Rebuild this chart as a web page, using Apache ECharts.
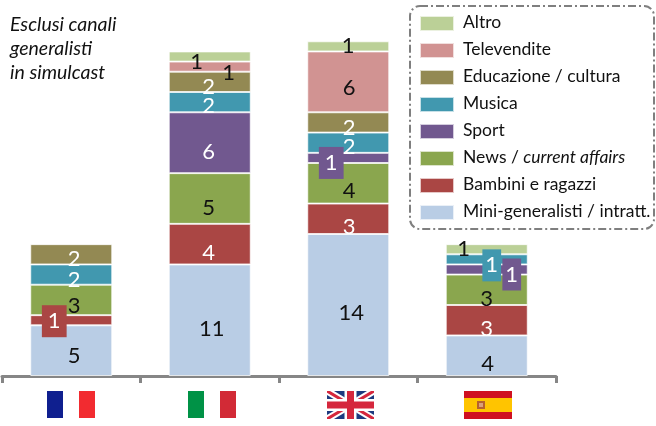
<!DOCTYPE html>
<html>
<head>
<meta charset="utf-8">
<style>
  html, body { margin: 0; padding: 0; background: #fff; }
  #chart { width: 656px; height: 426px; }
</style>
<script src="https://cdn.jsdelivr.net/npm/echarts@6/dist/echarts.min.js"></script>
</head>
<body>
<div id="chart"></div>
<script>
const paesi = ['Francia', 'Italia', 'Regno Unito', 'Spagna']

const miniGeneralisti = [5, 11, 14, 4]
const bambini = [1, 4, 3, 3]
const news = [3, 5, 4, 3]
const sport = [null, 6, 1, 1]
const musica = [2, 2, 2, 1]
const educazione = [2, 2, 2, null]
const televendite = [null, 1, 6, null]
const altro = [null, 1, 1, 1]

const FONT = 'Lato, "Open Sans", sans-serif'
const BLACK = '#111'
const WHITE = '#fff'

// nome, valori, colore, colore etichetta per paese
const serie = [
  ['Mini-generalisti / intratt.', miniGeneralisti, '#b9cde5', [BLACK, BLACK, BLACK, BLACK]],
  ['Bambini e ragazzi', bambini, '#aa4644', [WHITE, WHITE, WHITE, WHITE]],
  ['News / current affairs', news, '#8aa64e', [BLACK, BLACK, BLACK, BLACK]],
  ['Sport', sport, '#71588f', [WHITE, WHITE, WHITE, WHITE]],
  ['Musica', musica, '#4198af', [WHITE, WHITE, WHITE, WHITE]],
  ['Educazione / cultura', educazione, '#938953', [WHITE, WHITE, WHITE, WHITE]],
  ['Televendite', televendite, '#d19392', [BLACK, BLACK, BLACK, BLACK]],
  ['Altro', altro, '#bbd097', [BLACK, BLACK, BLACK, BLACK]],
]

// spostamento etichette [dx, dy] per serie e paese; terzo elemento = padding del riquadro colorato
const spostamenti = {
  'Mini-generalisti / intratt.': [[3, 5], [2, 9], [3, 8], [1, 8]],
  'Bambini e ragazzi': [[-17, 1, [5, 6]], [-1, 9], [1, 8], [0, 9]],
  'News / current affairs': [[3, 6], [-1, 9], [1, 8], [0, 9]],
  'Sport': [null, [-1, 9], [-17, 5, [5, 6]], [25, 5, [5, 3]]],
  'Musica': [[3, 5], [-1, 4], [1, 4], [5, 6, [5, 3]]],
  'Educazione / cultura': [[3, 5], [-1, 5], [1, 5], null],
  'Televendite': [null, [19, 6], [1, 6], null],
  'Altro': [null, [-13, 5], [0, 0], [-23, 0]],
}

function datiSerie(nome, valori, colori, coloreBarra) {
  return valori.map((v, i) => {
    if (v === null) return null
    const s = spostamenti[nome][i]
    const label = { color: colori[i], offset: [s[0], s[1]] }
    if (s[2]) {
      label.backgroundColor = coloreBarra
      label.padding = s[2]
    }
    return { value: v, label }
  })
}

// bandiere: disegnate a mano, non sono dati
function rect(x, y, w, h, fill) {
  return { type: 'rect', silent: true, shape: { x, y, width: w, height: h }, style: { fill } }
}
function poly(points, fill) {
  return { type: 'polygon', silent: true, shape: { points }, style: { fill } }
}
function tricolore(x, c1, c3) {
  return [rect(x, 391, 16, 27, c1), rect(x + 32, 391, 16, 27, c3)]
}
function unionJack(x, y, w, h) {
  const out = [rect(x, y, w, h, '#1d3a7f')]
  const diag = (d, fill) => [
    poly([[x, y], [x + d, y], [x + w, y + h - d * 0.57], [x + w, y + h], [x + w - d, y + h], [x, y + d * 0.57]], fill),
    poly([[x + w, y], [x + w - d, y], [x, y + h - d * 0.57], [x, y + h], [x + d, y + h], [x + w, y + d * 0.57]], fill),
  ]
  out.push(...diag(7, '#fff'), ...diag(3, '#d5273d'))
  out.push(rect(x + w / 2 - 6, y, 12, h, '#fff'), rect(x, y + h / 2 - 6, w, 12, '#fff'))
  out.push(rect(x + w / 2 - 3.5, y, 7, h, '#d5273d'), rect(x, y + h / 2 - 3.5, w, 7, '#d5273d'))
  return out
}
function spagna(x, y) {
  return [
    rect(x, y, 48, 28, '#cf1020'),
    rect(x, y + 7, 48, 14, '#ffc400'),
    rect(x + 13, y + 10, 8, 8, '#b5612f'),
    rect(x + 15, y + 12, 4, 4, '#d9a07a'),
  ]
}

const option = {
  animation: false,
  backgroundColor: '#fff',
  textStyle: { fontFamily: FONT },
  title: {
    text: 'Esclusi canali\ngeneralisti\nin simulcast',
    left: 5,
    top: 8,
    textStyle: { fontFamily: FONT, fontStyle: 'italic', fontWeight: 'normal', fontSize: 19.5, lineHeight: 24, color: '#111' },
  },
  legend: {
    data: serie.map((s) => s[0]).reverse(),
    orient: 'vertical',
    left: 414,
    top: 8,
    itemWidth: 34,
    itemHeight: 15,
    itemGap: 8,
    icon: 'rect',
    selectedMode: false,
    formatter: (n) => n.replace('current affairs', '{i|current affairs}'),
    textStyle: {
      fontFamily: FONT,
      fontSize: 17.5,
      color: '#111',
      padding: [0, 0, 3, 4],
      rich: { i: { fontFamily: FONT, fontSize: 17.5, fontStyle: 'italic', color: '#111' } },
    },
  },
  grid: { left: 2, width: 554, top: 21, height: 355 },
  xAxis: {
    type: 'category',
    data: paesi,
    axisLine: { lineStyle: { color: '#868686', width: 3 } },
    axisTick: { show: true, length: 7, lineStyle: { color: '#868686', width: 3 } },
    axisLabel: { show: false },
  },
  yAxis: { type: 'value', min: 0, max: 35, show: false },
  series: serie.map(([nome, valori, colore, colori]) => ({
    name: nome,
    type: 'bar',
    stack: 'canali',
    barWidth: 82,
    data: datiSerie(nome, valori, colori, colore),
    itemStyle: { color: colore, borderColor: 'rgba(255,255,255,0.7)', borderWidth: 1 },
    label: { show: true, position: 'inside', fontFamily: FONT, fontSize: 22 },
  })),
  graphic: [
    {
      type: 'rect',
      silent: true,
      shape: { x: 410, y: 6, width: 244, height: 223, r: 10 },
      style: { fill: 'none', stroke: '#7f7f7f', lineWidth: 2, lineDash: [8, 3, 2, 3] },
    },
    ...tricolore(47, '#0f1f8f', '#f22b30'),
    ...tricolore(188, '#009246', '#d22a36'),
    ...unionJack(327, 391, 47, 28),
    ...spagna(464, 391),
  ],
}

const chart = echarts.init(document.getElementById('chart'), null, { renderer: 'canvas' })
chart.setOption(option)
</script>
</body>
</html>
